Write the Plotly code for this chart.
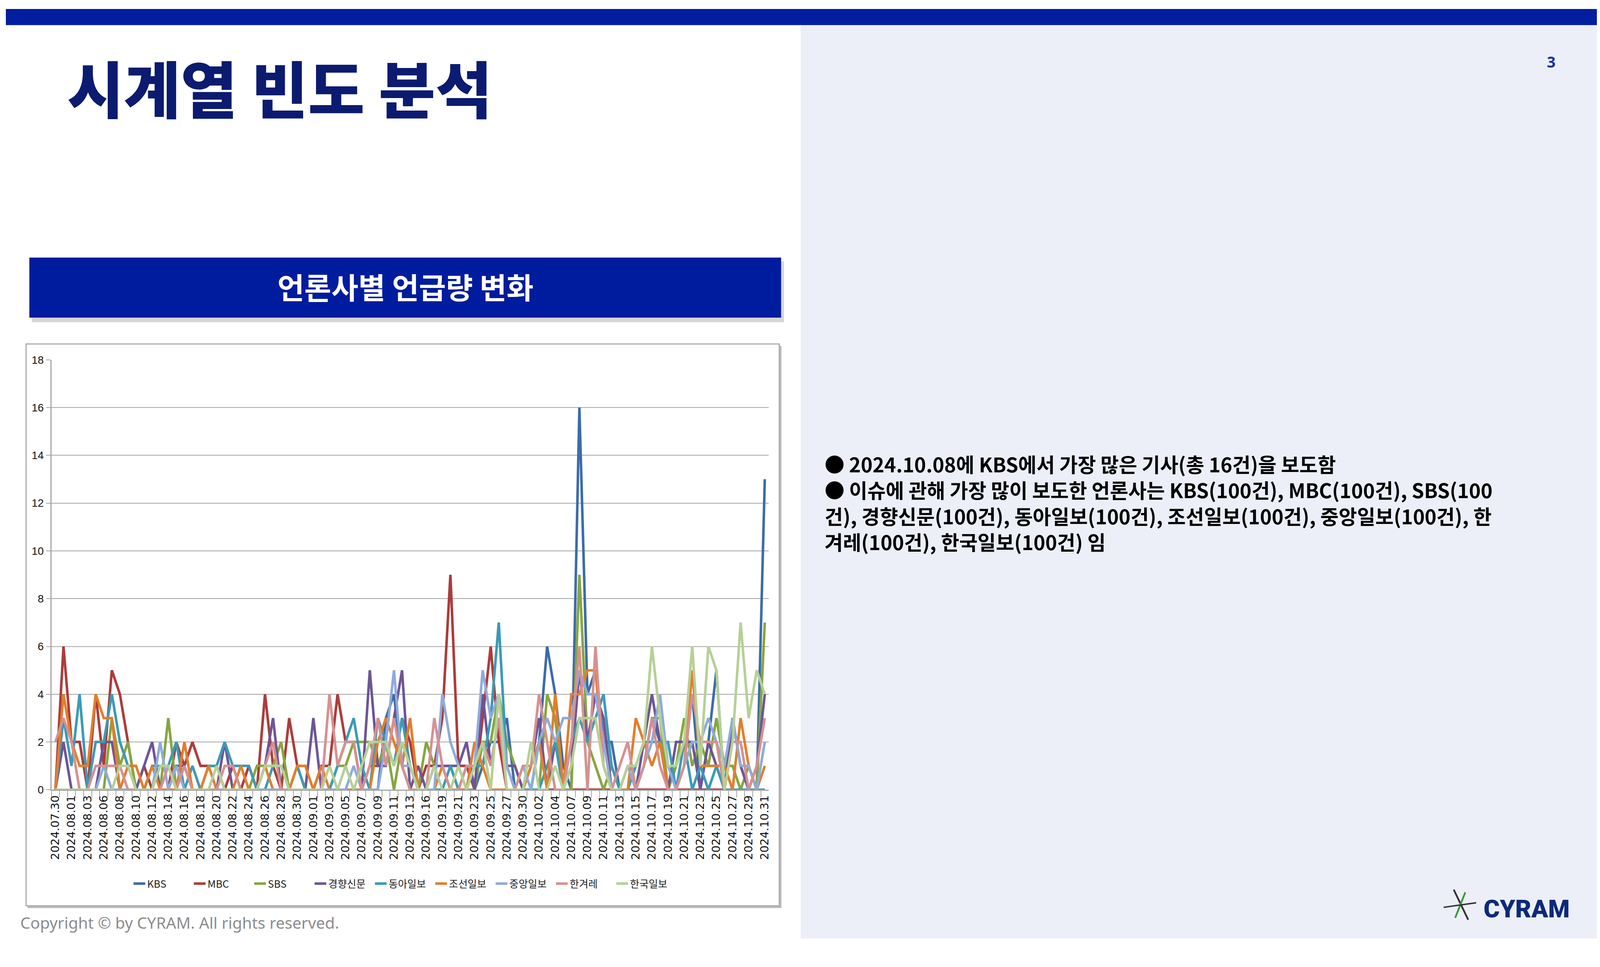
import pandas as pd
import plotly.graph_objects as go

# positions below are read in the 4399 x 2475 reference frame.
# the visible page is a little smaller than the window, so the slide is
# scaled to fit it: S across, FIG_H down. The figure is a bit wider than the
# slide so that only the lavender panel runs past the visible edge.
REF_W, REF_H = 4399, 2475
CONTENT_W = 4081
S = CONTENT_W / REF_W
FIG_W = CONTENT_W + 60
FIG_H = 2410

# dates that appear on the category axis (a few days have no articles)
skipped = ["2024-08-04", "2024-09-14", "2024-09-17", "2024-09-28", "2024-10-05"]
all_days = pd.date_range("2024-07-30", "2024-10-31")
dates = [d.strftime("%Y.%m.%d") for d in all_days if d.strftime("%Y-%m-%d") not in skipped]

kbs = [0, 0, 0, 0, 0, 0, 0, 0, 0, 0, 0, 0, 0, 0, 0, 0, 0, 0, 0, 0,
       0, 0, 0, 0, 0, 0, 0, 0, 0, 0, 0, 0, 0, 0, 0, 0, 0, 0, 0, 0,
       0, 3, 4, 1, 0, 0, 0, 0, 0, 0, 0, 0, 0, 1, 2, 2, 3, 0, 0, 0,
       2, 6, 4, 1, 0, 16, 4, 5, 2, 2, 0, 0, 0, 1, 3, 2, 0, 1, 2, 4,
       0, 2, 5, 0, 3, 1, 0, 0, 13]
mbc = [0, 6, 2, 2, 0, 4, 1, 5, 4, 2, 0, 1, 0, 0, 0, 2, 1, 2, 1, 1,
       1, 0, 1, 0, 1, 0, 4, 1, 0, 3, 1, 0, 0, 1, 1, 4, 2, 2, 0, 1,
       1, 2, 1, 3, 2, 0, 1, 1, 3, 9, 1, 1, 0, 3, 6, 2, 0, 0, 0, 0,
       0, 0, 0, 0, 0, 0, 0, 0, 0, 0, 0, 0, 0, 0, 0, 0, 0, 0, 0, 0,
       0, 0, 0, 0, 0, 0, 0, 0, 0]
sbs = [0, 0, 0, 0, 0, 0, 0, 3, 1, 2, 0, 0, 0, 0, 3, 0, 0, 0, 0, 0,
       0, 0, 0, 0, 0, 1, 1, 1, 2, 0, 0, 0, 0, 0, 0, 1, 1, 2, 2, 2,
       1, 2, 0, 2, 1, 0, 2, 1, 1, 1, 0, 0, 0, 2, 2, 4, 2, 1, 0, 0,
       0, 4, 3, 0, 0, 9, 2, 1, 0, 1, 0, 0, 0, 1, 3, 3, 0, 1, 3, 1,
       2, 1, 3, 1, 1, 0, 1, 0, 7]
kyunghyang = [0, 2, 0, 0, 0, 0, 2, 2, 0, 0, 0, 1, 2, 0, 0, 1, 1, 0, 0, 0,
              0, 2, 0, 0, 0, 0, 1, 3, 0, 0, 0, 0, 3, 0, 0, 0, 0, 0, 0, 5,
              1, 1, 3, 5, 0, 1, 0, 1, 1, 1, 1, 2, 0, 4, 1, 3, 1, 1, 0, 1,
              3, 0, 2, 0, 1, 5, 2, 4, 3, 0, 0, 0, 0, 2, 4, 2, 0, 2, 2, 2,
              0, 2, 1, 0, 3, 1, 0, 1, 4]
donga = [0, 3, 1, 4, 0, 2, 2, 4, 2, 1, 0, 0, 1, 1, 1, 2, 0, 1, 0, 1,
         1, 2, 1, 1, 1, 0, 0, 1, 1, 0, 1, 0, 0, 0, 0, 1, 2, 3, 1, 0,
         3, 2, 1, 3, 1, 0, 0, 0, 0, 1, 0, 1, 1, 1, 3, 7, 1, 0, 0, 0,
         0, 1, 2, 0, 2, 3, 2, 3, 4, 1, 0, 0, 1, 2, 2, 2, 2, 0, 2, 0,
         1, 0, 1, 0, 0, 0, 0, 0, 0]
chosun = [0, 4, 2, 1, 1, 4, 3, 3, 0, 1, 1, 0, 1, 0, 0, 0, 2, 0, 0, 1,
          0, 0, 0, 1, 0, 0, 1, 0, 0, 0, 1, 1, 0, 1, 0, 0, 0, 0, 0, 0,
          2, 3, 2, 1, 3, 0, 0, 0, 1, 0, 0, 0, 2, 1, 0, 0, 0, 0, 0, 1,
          2, 0, 4, 0, 4, 4, 5, 5, 1, 0, 0, 0, 3, 2, 1, 2, 0, 0, 1, 5,
          1, 1, 1, 1, 0, 3, 1, 0, 1]
joongang = [0, 0, 0, 0, 0, 0, 1, 0, 0, 0, 0, 0, 0, 2, 0, 1, 0, 0, 0, 0,
            0, 0, 0, 0, 0, 0, 0, 0, 0, 0, 0, 0, 0, 0, 0, 0, 0, 1, 0, 0,
            0, 2, 5, 1, 1, 0, 0, 0, 4, 2, 1, 0, 1, 5, 3, 4, 1, 0, 1, 0,
            2, 3, 2, 3, 3, 5, 4, 4, 2, 0, 0, 1, 0, 1, 2, 4, 1, 0, 1, 2,
            2, 3, 2, 1, 3, 1, 1, 0, 2]
hankyoreh = [2, 3, 2, 0, 0, 1, 1, 1, 1, 0, 0, 0, 0, 0, 1, 0, 1, 0, 0, 0,
             0, 1, 1, 0, 0, 0, 1, 2, 0, 0, 0, 0, 0, 0, 4, 1, 2, 2, 0, 1,
             3, 1, 3, 1, 0, 0, 0, 3, 1, 0, 0, 1, 1, 2, 1, 3, 0, 0, 1, 1,
             4, 2, 0, 0, 2, 6, 0, 6, 1, 0, 1, 2, 0, 1, 3, 1, 0, 0, 1, 4,
             2, 2, 2, 0, 2, 2, 0, 1, 3]
hankook = [0, 0, 0, 0, 0, 0, 0, 0, 1, 1, 0, 0, 0, 1, 1, 0, 0, 0, 0, 0,
           1, 0, 0, 0, 0, 0, 1, 1, 1, 0, 0, 0, 0, 0, 1, 0, 1, 0, 1, 2,
           2, 2, 1, 2, 1, 0, 0, 1, 0, 0, 1, 0, 1, 2, 0, 4, 0, 0, 0, 2,
           0, 0, 1, 0, 1, 3, 3, 3, 1, 0, 0, 1, 1, 2, 6, 3, 1, 1, 2, 6,
           1, 6, 5, 0, 2, 7, 3, 5, 4]

names = ["KBS", "MBC", "SBS", "경향신문", "동아일보", "조선일보", "중앙일보", "한겨레", "한국일보"]
series = [kbs, mbc, sbs, kyunghyang, donga, chosun, joongang, hankyoreh, hankook]
colors = ["#3C6CAB", "#AC3C3B", "#87A640", "#6E5597", "#3A9BB5",
          "#E27E2C", "#8FABDB", "#D69190", "#B6D096"]

y_ticks = list(range(0, 19, 2))

bullet_lines = [
    "● 2024.10.08에 KBS에서 가장 많은 기사(총 16건)을 보도함",
    "● 이슈에 관해 가장 많이 보도한 언론사는 KBS(100건), MBC(100건), SBS(100",
    "건), 경향신문(100건), 동아일보(100건), 조선일보(100건), 중앙일보(100건), 한",
    "겨레(100건), 한국일보(100건) 임",
]


def px(x):
    return x * S / FIG_W


def py(y):
    return 1 - y / REF_H


def fs(size):
    return round(size * S, 1)


KR = "Noto Sans CJK KR"
P = dict(xref="paper", yref="paper")

fig = go.Figure()
for name, vals, col in zip(names, series, colors):
    fig.add_trace(go.Scatter(x=dates, y=vals, mode="lines", name=name,
                             line=dict(color=col, width=fs(7))))

shapes = [
    # right panel and top bar
    dict(type="rect", x0=px(2200), x1=1, y0=0, y1=py(43), fillcolor="#ECEFF8", line_width=0, layer="below", **P),
    dict(type="rect", x0=0, x1=1, y0=py(43), y1=1, fillcolor="#001E9F", line_width=0, layer="below", **P),
    # chart header box with shadow
    dict(type="rect", x0=px(72), x1=px(2154), y0=py(834), y1=py(672),
         fillcolor="rgba(0,0,0,0.16)", line_width=0, layer="below", **P),
    dict(type="rect", x0=px(65), x1=px(2146), y0=py(822), y1=py(662),
         fillcolor="#001C9E", line_width=0, layer="below", **P),
    # chart frame with shadow
    dict(type="rect", x0=px(60), x1=px(2147), y0=py(2394), y1=py(897),
         fillcolor="#BDBDBD", line_width=0, layer="below", **P),
    dict(type="rect", x0=px(56), x1=px(2141), y0=py(2388), y1=py(892),
         fillcolor="white", line=dict(color="#A6A6A6", width=fs(3)), layer="below", **P),
    # little logo mark
    dict(type="line", x0=px(4008), x1=px(4048), y0=py(2345), y1=py(2425),
         line=dict(color="#333333", width=fs(5)), **P),
    dict(type="line", x0=px(4040), x1=px(4012), y0=py(2352), y1=py(2420),
         line=dict(color="#3C9A3C", width=fs(5)), **P),
    dict(type="line", x0=px(3980), x1=px(4070), y0=py(2392), y1=py(2380),
         line=dict(color="#333333", width=fs(4)), **P),
]

annotations = [
    dict(text="시계열 빈도 분석", x=px(168), y=py(206), xanchor="left", yanchor="middle",
         showarrow=False, font=dict(family=KR, size=fs(170), color="#0B1B70", weight=900), **P),
    dict(text="언론사별 언급량 변화", x=px(1106), y=py(738), xanchor="center", yanchor="middle",
         showarrow=False, font=dict(family=KR, size=fs(81), color="white", weight=700), **P),
    dict(text="<br>".join(bullet_lines), x=px(2264), y=py(1170), xanchor="left", yanchor="top",
         align="left", showarrow=False,
         font=dict(family=KR, size=fs(55), color="black", weight=700), **P),
    dict(text="3", x=px(4278), y=py(140), xanchor="center", yanchor="middle", showarrow=False,
         font=dict(family="Noto Sans", size=fs(42), color="#1A2FA0", weight=700), **P),
    dict(text="Copyright © by CYRAM. All rights reserved.", x=px(38), y=py(2432),
         xanchor="left", yanchor="middle", showarrow=False,
         font=dict(family="Noto Sans", size=fs(44), color="#8C8C8C"), **P),
    dict(text="CYRAM", x=px(4088), y=py(2396), xanchor="left", yanchor="middle", showarrow=False,
         font=dict(family="Roboto", size=fs(68), color="#0C2A7A", weight=900), **P),
]

fig.update_layout(
    width=FIG_W, height=FIG_H,
    margin=dict(l=0, r=0, t=0, b=0),
    paper_bgcolor="white",
    plot_bgcolor="white",
    shapes=shapes,
    annotations=annotations,
    showlegend=True,
    legend=dict(orientation="h", x=px(1100), xanchor="center", y=py(2329), yanchor="middle",
                font=dict(family=KR, size=fs(28), color="#222222"), itemwidth=30,
                entrywidth=fs(118), entrywidthmode="pixels",
                bgcolor="rgba(0,0,0,0)", tracegroupgap=0),
    xaxis=dict(
        domain=[px(126), px(2112)],
        type="category",
        range=[-0.5, len(dates) - 0.5],
        tickmode="array",
        tickvals=dates,
        ticktext=[d if i % 2 == 0 else "" for i, d in enumerate(dates)],
        tickson="boundaries",
        ticks="outside", ticklen=fs(18), tickwidth=2, tickcolor="#A6A6A6",
        tickangle=-90,
        tickfont=dict(family="DejaVu Sans", size=fs(31), color="#111111"),
        showline=True, linecolor="#A6A6A6", linewidth=fs(3),
        showgrid=False, zeroline=False,
    ),
    yaxis=dict(
        domain=[py(2079), py(934)],
        range=[0, 18],
        tickvals=y_ticks,
        ticks="outside", ticklen=fs(12), tickwidth=2, tickcolor="#A6A6A6",
        tickfont=dict(family="Liberation Sans", size=fs(30), color="#111111"),
        showline=True, linecolor="#A6A6A6", linewidth=fs(3),
        showgrid=True, gridcolor="#A6A6A6", gridwidth=2,
        zeroline=False,
    ),
)

fig.write_html("out.html")
